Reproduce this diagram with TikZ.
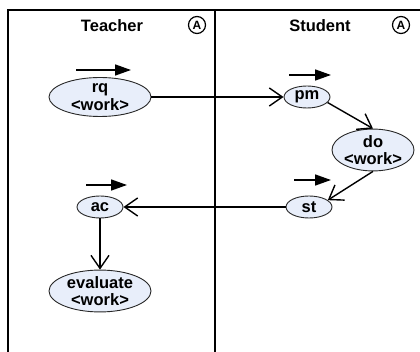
\documentclass[tikz,border=0pt]{standalone}
\usepackage{fontspec}
\setmainfont{Liberation Sans}
\usetikzlibrary{arrows.meta,shapes.geometric}
\definecolor{actfill}{RGB}{232,238,250}
\definecolor{actline}{RGB}{40,40,40}
\tikzset{
  act/.style={ellipse, draw=actline, line width=0.9pt, fill=actfill, inner sep=0pt,
    align=center, font=\fontsize{16.5}{17.5}\selectfont\bfseries},
  bigact/.style={act, minimum width=102pt, minimum height=39pt},
  smallact/.style={act, minimum width=46pt, minimum height=22pt},
  flow/.style={line width=1.4pt, -{Straight Barb[length=13pt,width=18pt,line width=1.4pt]}},
  dirmark/.style={line width=1.6pt, -{Triangle[length=16pt,width=11pt]}},
  lane/.style={line width=1.4pt},
  lanetitle/.style={font=\fontsize{16.5}{18}\selectfont\bfseries},
  anchorsign/.style={circle, draw, line width=1.2pt, inner sep=0pt, minimum size=17pt,
    font=\fontsize{12}{13}\selectfont\bfseries}
}
\begin{document}
\begin{tikzpicture}[x=1pt,y=-1pt]
  \useasboundingbox (0,0) rectangle (420,352);
  \fill[white] (0,0) rectangle (420,352);

  % swimlane frame
  \draw[lane] (420,10) -- (8,10) -- (8,352);
  \draw[lane] (215,10) -- (215,352);

  % lane headings
  \node[lanetitle] (teacher) at (112,26) {Teacher};
  \node[anchorsign] (ta) at (197,25) {A};
  \node[lanetitle] (student) at (320,26) {Student};
  \node[anchorsign] (sa) at (401,25) {A};

  % activities
  \node[bigact] (rq) at (100,97) {rq\\<work>};
  \node[smallact] (pm) at (307,97) {pm};
  \node[act, minimum width=82pt, minimum height=40pt] (do) at (373,150) {do\\<work>};
  \node[smallact] (st) at (309,207) {st};
  \node[smallact] (ac) at (100,207) {ac};
  \node[bigact] (ev) at (100,291) {evaluate\\<work>};

  % direction marks
  \draw[dirmark] (76,70) -- (131,70);
  \draw[dirmark] (289,75) -- (331,75);
  \draw[dirmark] (294,180) -- (331,180);
  \draw[dirmark] (86,185) -- (127,185);

  % control flow
  \draw[flow] (rq.east) -- (pm.west);
  \draw[flow] (pm.-15) -- (do.north);
  \draw[flow] (do.south) -- (st.20);
  \draw[flow] (st.west) -- (ac.east);
  \draw[flow] (ac.south) -- (ev.north);
\end{tikzpicture}
\end{document}
